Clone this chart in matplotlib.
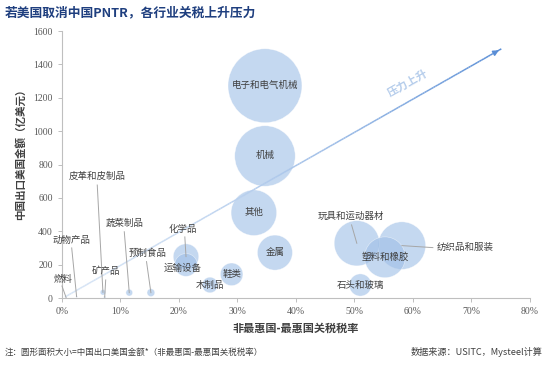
import numpy as np
import matplotlib
matplotlib.use("Agg")
import matplotlib.pyplot as plt
from matplotlib.collections import LineCollection
from matplotlib.colors import to_rgb

plt.rcParams['font.family'] = ['Noto Sans CJK SC', 'DejaVu Sans']

# ---------------- data ----------------
sectors = ['电子和电气机械', '机械', '其他', '金属', '化学品', '运输设备', '鞋类', '木制品',
           '玩具和运动器材', '纺织品和服装', '塑料和橡胶', '石头和玻璃', '预制食品', '蔬菜制品',
           '皮革和皮制品', '矿产品', '动物产品', '燃料']
tariff_gap = [34.7, 34.7, 32.8, 36.4, 21.2, 21.2, 29.0, 25.3,
              50.4, 58.1, 55.2, 51.0, 15.2, 11.5, 7.0, 7.3, 2.5, 0.7]      # %
exports = [1272, 851, 511, 272, 248, 198, 142, 78,
           328, 314, 244, 78, 32, 32, 34, 5, 8, 3]                       # 亿美元
x_ticks = [0, 10, 20, 30, 40, 50, 60, 70, 80]
y_ticks = [0, 200, 400, 600, 800, 1000, 1200, 1400, 1600]

# label placement: (x, y, ha, leader start)  in data units
label_pos = {
    '电子和电气机械': None, '机械': None, '其他': None, '金属': None, '鞋类': None,
    '木制品': None, '塑料和橡胶': None, '石头和玻璃': None,
    '化学品': (20.7, 412, 'center', (21.0, 366)),
    '运输设备': (20.7, 178, 'center', None),
    '玩具和运动器材': (49.4, 492, 'center', (49.5, 438)),
    '纺织品和服装': (64.0, 302, 'left', (63.4, 302)),
    '预制食品': (14.6, 268, 'center', (14.45, 218)),
    '蔬菜制品': (10.7, 450, 'center', (10.65, 397)),
    '皮革和皮制品': (6.0, 727, 'center', (6.03, 677)),
    '矿产品': (7.5, 158, 'center', (7.47, 108)),
    '动物产品': (1.7, 343, 'center', (1.66, 300)),
    '燃料': (0.2, 112, 'center', (0.0, 72)),
}
arrow_start = (0.5, 6)
arrow_end = (75.1, 1493)

# ---------------- figure ----------------
fig = plt.figure(figsize=(5.5, 3.67), dpi=100)
ax = fig.add_axes([0.1127, 0.188, 0.8509, 0.7275])
ax.set_xlim(0, 80)
ax.set_ylim(0, 1600)

x = np.array(tariff_gap)
y = np.array(exports)
sizes = 6.42 * y * x / 100.0
order = np.argsort(-sizes)
ax.scatter(x[order], y[order], s=sizes[order], color='#9EBEE6', alpha=0.6,
           edgecolors='white', linewidths=0.4, zorder=2)

# gradient arrow
n = 200
xs = np.linspace(arrow_start[0], arrow_end[0], n)
ys = np.linspace(arrow_start[1], arrow_end[1], n)
pts = np.column_stack([xs, ys]).reshape(-1, 1, 2)
segs = np.concatenate([pts[:-1], pts[1:]], axis=1)
c0 = np.array(to_rgb('#D6E4F5'))
c1 = np.array(to_rgb('#5A8ED6'))
t = np.linspace(0, 1, n - 1)[:, None] ** 1.6
cols = c0 * (1 - t) + c1 * t
lc = LineCollection(segs, colors=cols, linewidths=1.1, zorder=3)
ax.add_collection(lc)
slope = (arrow_end[1] - arrow_start[1]) / (arrow_end[0] - arrow_start[0])
ax.annotate('', xy=arrow_end, xytext=(arrow_end[0] - 1.5, arrow_end[1] - 1.5 * slope),
            arrowprops=dict(arrowstyle='-|>', color='#5A8ED6', lw=1.1, mutation_scale=8), zorder=4)

# rotated text along arrow
fig.canvas.draw()
p0 = ax.transData.transform(arrow_start)
p1 = ax.transData.transform(arrow_end)
ang = np.degrees(np.arctan2(p1[1] - p0[1], p1[0] - p0[0]))
ax.text(59.1, 1291, '压力上升', rotation=ang, rotation_mode='anchor', ha='center', va='center',
        fontsize=8, fontweight='bold', color='#B4CCEB', zorder=5)

# labels
txt_color = '#404040'
for name, xv, yv in zip(sectors, tariff_gap, exports):
    pos = label_pos[name]
    if pos is None:
        ax.text(xv, yv, name, ha='center', va='center', fontsize=6.8, color=txt_color, zorder=6)
    else:
        lx, ly, ha, lead = pos
        ax.text(lx, ly, name, ha=ha, va='center', fontsize=6.8, color=txt_color, zorder=6,
                clip_on=False)
        if lead is not None:
            ax.plot([lead[0], xv], [lead[1], yv], color='#A6A6A6', lw=0.7, zorder=5,
                    clip_on=False)

# axes styling
for s in ['top', 'right']:
    ax.spines[s].set_visible(False)
for s in ['left', 'bottom']:
    ax.spines[s].set_color('#BFBFBF')
    ax.spines[s].set_linewidth(0.8)
ax.set_xticks(x_ticks)
ax.set_xticklabels([f'{v}%' for v in x_ticks])
ax.set_yticks(y_ticks)
ax.set_yticklabels([str(v) for v in y_ticks])
ax.tick_params(axis='both', colors='#BFBFBF', length=3, width=0.7, labelsize=7,
               labelcolor='#595959')
for lab in ax.get_xticklabels() + ax.get_yticklabels():
    lab.set_family(['Liberation Serif'])

ax.set_xlabel('非最惠国-最惠国关税税率', fontsize=8, fontweight='bold', color='#404040', labelpad=4)
ax.set_ylabel('中国出口美国金额（亿美元）', fontsize=7.6, fontweight='bold', color='#404040', labelpad=5)
ax.yaxis.set_label_coords(-0.078, 0.547)

fig.text(0.009, 0.965, '若美国取消中国PNTR，各行业关税上升压力', fontsize=9.2, fontweight='bold',
         color='#1F3F7F', ha='left', va='center')
fig.text(0.009, 0.041, '注：圆形面积大小=中国出口美国金额*（非最惠国-最惠国关税税率）', fontsize=6.1,
         color='#404040', ha='left', va='center', style='italic')
fig.text(0.9855, 0.041, '数据来源：USITC，Mysteel计算', fontsize=6.6, color='#404040',
         ha='right', va='center')

fig.savefig('out.png', dpi=100)
